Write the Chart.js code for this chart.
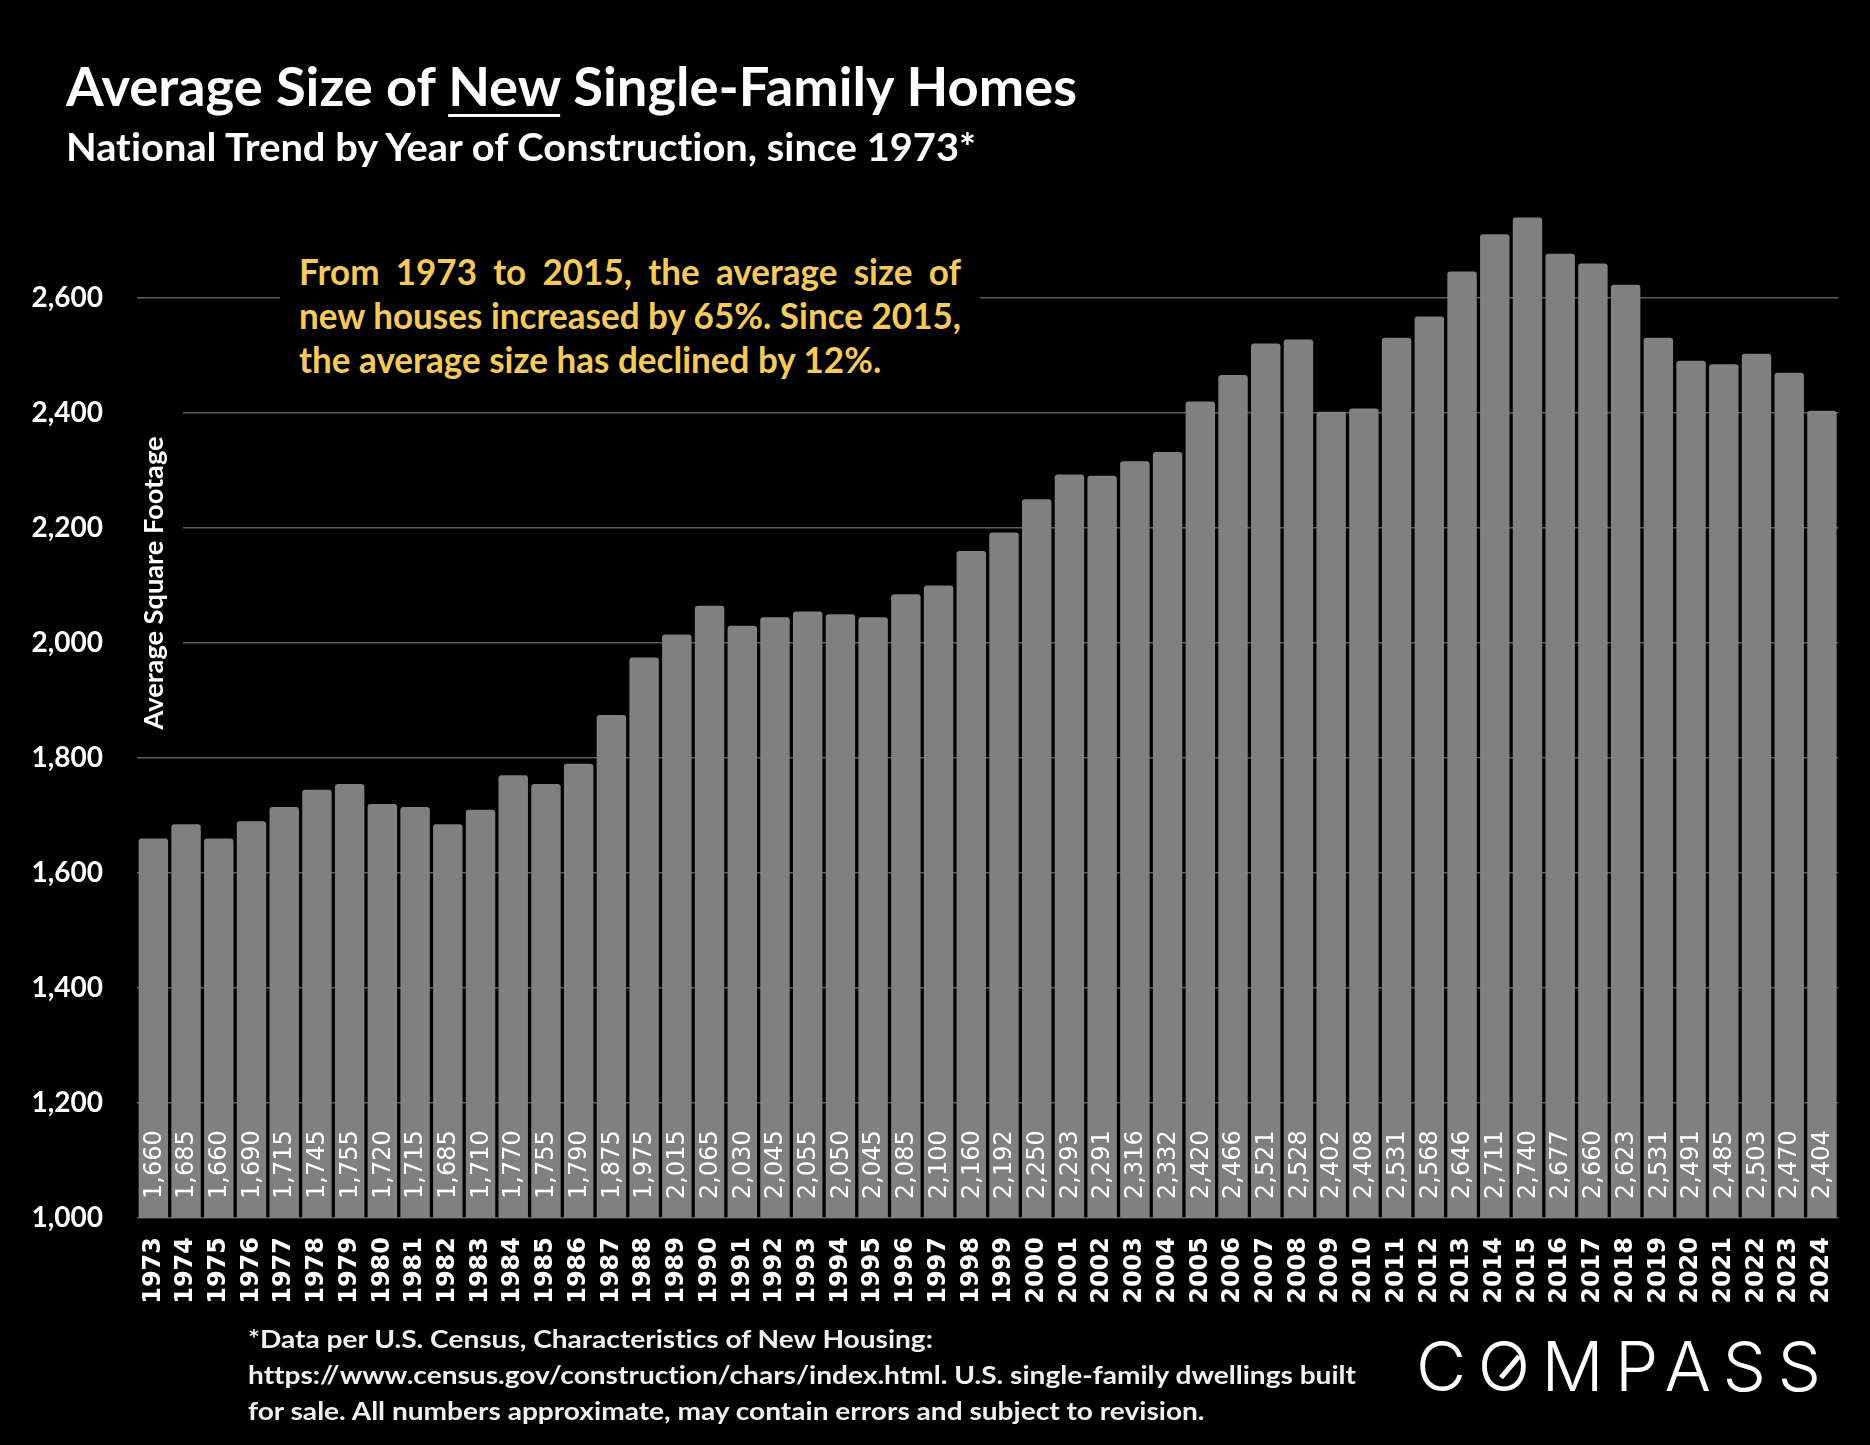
<!DOCTYPE html>
<html>
<head>
<meta charset="utf-8">
<title>Average Size of New Single-Family Homes</title>
<script src="https://cdn.jsdelivr.net/npm/chart.js@4.4.1/dist/chart.umd.min.js"></script>
<style>
html, body { margin: 0; padding: 0; background: #000; }
#page { position: relative; width: 1870px; height: 1445px; background: #000; overflow: hidden; font-family: Lato, "Open Sans", sans-serif; color: #fff; font-variant-ligatures: none; }
#chart { position: absolute; left: 0; top: 0; }
.fit { position: absolute; white-space: nowrap; transform-origin: 0 0; display: inline-block; line-height: 1; }
#title { left: 66px; top: 59px; font-size: 54px; font-weight: 700; }
#title u { text-decoration-thickness: 3px; text-underline-offset: 8px; }
#subtitle { left: 66px; top: 127px; font-size: 39px; font-weight: 700; }
#note { position: absolute; left: 280px; top: 240px; width: 700px; height: 150px; background: #000; }
#note span { position: absolute; left: 19px; font-size: 36px; line-height: 44px; font-weight: 700; color: #f4ca5c; white-space: nowrap; transform-origin: 0 0; }
#foot div { position: absolute; left: 248px; font-size: 25px; line-height: 36px; font-weight: 700; color: #f0f0f0; white-space: nowrap; transform-origin: 0 0; }
#logo { position: absolute; left: 1416px; top: 1332px; font-family: Inter, "Noto Sans", sans-serif; font-size: 69px; font-weight: 300; line-height: 1; white-space: nowrap; color: #fff; }
#logo .o { position: relative; display: inline-block; }
#logo .o::after { content: ""; position: absolute; left: 50%; top: 50%; width: 5px; height: 28px; background: #fff; transform: translate(-50%, -50%) rotate(40deg); }
</style>
</head>
<body>
<div id="page">
  <canvas id="chart" width="1870" height="1445"></canvas>
  <div id="title" class="fit">Average Size of <u>New</u> Single-Family Homes</div>
  <div id="subtitle" class="fit">National Trend by Year of Construction, since 1973*</div>
  <div id="note">
    <span id="n1" style="top:9px">From 1973 to 2015, the average size of</span>
    <span id="n2" style="top:53px">new houses increased by 65%. Since 2015,</span>
    <span id="n3" style="top:97px">the average size has declined by 12%.</span>
  </div>
  <div id="foot">
    <div style="top:1320px">*Data per U.S. Census, Characteristics of New Housing:</div>
    <div style="top:1356px" id="footWide">https://www.census.gov/construction/chars/index.html. U.S. single-family dwellings built</div>
    <div style="top:1392px">for sale. All numbers approximate, may contain errors and subject to revision.</div>
  </div>
  <div id="logo">C<span class="o">O</span>MPASS</div>
</div>
<script>
const years = ['1973','1974','1975','1976','1977','1978','1979','1980','1981','1982',
    '1983','1984','1985','1986','1987','1988','1989','1990','1991','1992',
    '1993','1994','1995','1996','1997','1998','1999','2000','2001','2002',
    '2003','2004','2005','2006','2007','2008','2009','2010','2011','2012',
    '2013','2014','2015','2016','2017','2018','2019','2020','2021','2022',
    '2023','2024'];
const avgSqFt = [1660, 1685, 1660, 1690, 1715, 1745, 1755, 1720, 1715, 1685,
    1710, 1770, 1755, 1790, 1875, 1975, 2015, 2065, 2030, 2045,
    2055, 2050, 2045, 2085, 2100, 2160, 2192, 2250, 2293, 2291,
    2316, 2332, 2420, 2466, 2521, 2528, 2402, 2408, 2531, 2568,
    2646, 2711, 2740, 2677, 2660, 2623, 2531, 2491, 2485, 2503,
    2470, 2404];
const yTickValues = [1000, 1200, 1400, 1600, 1800, 2000, 2200, 2400, 2600];
const yAxisTitle = 'Average Square Footage';

const labelFamily = '"DejaVu Sans", Verdana, sans-serif';

// squeeze the html text blocks so they match the narrow original typeface
function fitWidth(el, target) {
    const w = el.getBoundingClientRect().width;
    el.style.transform = 'scaleX(' + (target / w) + ')';
}
fitWidth(document.getElementById('title'), 1011);
fitWidth(document.getElementById('subtitle'), 910);

const footWide = document.getElementById('footWide');
const footScale = 1108 / footWide.getBoundingClientRect().width;
document.querySelectorAll('#foot div').forEach(d => d.style.transform = 'scaleX(' + footScale + ')');

// note box: second line sets the squeeze, first line gets justified by word spacing
const noteW = 662;
const n2 = document.getElementById('n2');
const noteScale = noteW / n2.getBoundingClientRect().width;
const n1 = document.getElementById('n1');
const n1w = n1.getBoundingClientRect().width;
n1.style.wordSpacing = ((noteW / noteScale - n1w) / 7) + 'px';
['n1', 'n2', 'n3'].forEach(id => document.getElementById(id).style.transform = 'scaleX(' + noteScale + ')');

const logo = document.getElementById('logo');
const logoW = logo.getBoundingClientRect().width;
logo.style.letterSpacing = ((405 - logoW) / 6) + 'px';

const axisTitlePlugin = {
    id: 'axisTitle',
    beforeDatasetsDraw(chart) {
        const ctx = chart.ctx;
        ctx.save();
        ctx.fillStyle = '#000';
        ctx.fillRect(137, 400, 46, 345);
        ctx.translate(155, 583);
        ctx.rotate(-Math.PI / 2);
        ctx.font = '700 26px Lato, sans-serif';
        const w = ctx.measureText(yAxisTitle).width;
        ctx.scale(293 / w, 1);
        ctx.fillStyle = '#fff';
        ctx.textAlign = 'center';
        ctx.textBaseline = 'middle';
        ctx.fillText(yAxisTitle, 0, 0);
        ctx.restore();
    }
};

const barLabelPlugin = {
    id: 'barLabels',
    afterDatasetsDraw(chart) {
        const ctx = chart.ctx;
        const xs = chart.scales.x;
        const base = chart.scales.y.getPixelForValue(yTickValues[0]);
        ctx.save();
        ctx.font = '24px ' + labelFamily;
        ctx.fillStyle = '#ffffff';
        ctx.textAlign = 'left';
        ctx.textBaseline = 'middle';
        for (let i = 0; i < avgSqFt.length; i++) {
            ctx.save();
            ctx.translate(xs.getPixelForValue(i) + 1, base - 19);
            ctx.rotate(-Math.PI / 2);
            ctx.fillText(avgSqFt[i].toLocaleString('en-US'), 0, 0);
            ctx.restore();
        }
        ctx.restore();
    }
};

new Chart(document.getElementById('chart'), {
    type: 'bar',
    data: {
        labels: years,
        datasets: [{
            data: avgSqFt,
            backgroundColor: '#808080',
            borderRadius: { topLeft: 3, topRight: 3 },
            borderSkipped: 'start',
            categoryPercentage: 1,
            barPercentage: 0.9
        }]
    },
    options: {
        responsive: false,
        animation: false,
        devicePixelRatio: 1,
        layout: { padding: { top: 183, right: 27, left: 0, bottom: 0 } },
        plugins: { legend: { display: false }, tooltip: { enabled: false } },
        scales: {
            x: {
                grid: { display: false, drawTicks: false },
                border: { display: false },
                ticks: {
                    color: '#fff',
                    font: { family: labelFamily, size: 24, weight: 'bold' },
                    maxRotation: 90,
                    minRotation: 90,
                    autoSkip: false,
                    padding: 19
                },
                afterFit(scale) { scale.height = 227; }
            },
            y: {
                min: 1000,
                max: 2800,
                grid: { color: '#5c5c5c', lineWidth: 1.5, drawTicks: false },
                border: { display: false },
                ticks: {
                    color: '#fff',
                    font: { family: 'Lato, sans-serif', size: 28, weight: 'bold' },
                    padding: 34,
                    callback: v => v.toLocaleString('en-US')
                },
                afterBuildTicks(scale) { scale.ticks = yTickValues.map(v => ({ value: v })); },
                afterFit(scale) { scale.width = 137; }
            }
        }
    },
    plugins: [axisTitlePlugin, barLabelPlugin]
});
</script>
</body>
</html>
